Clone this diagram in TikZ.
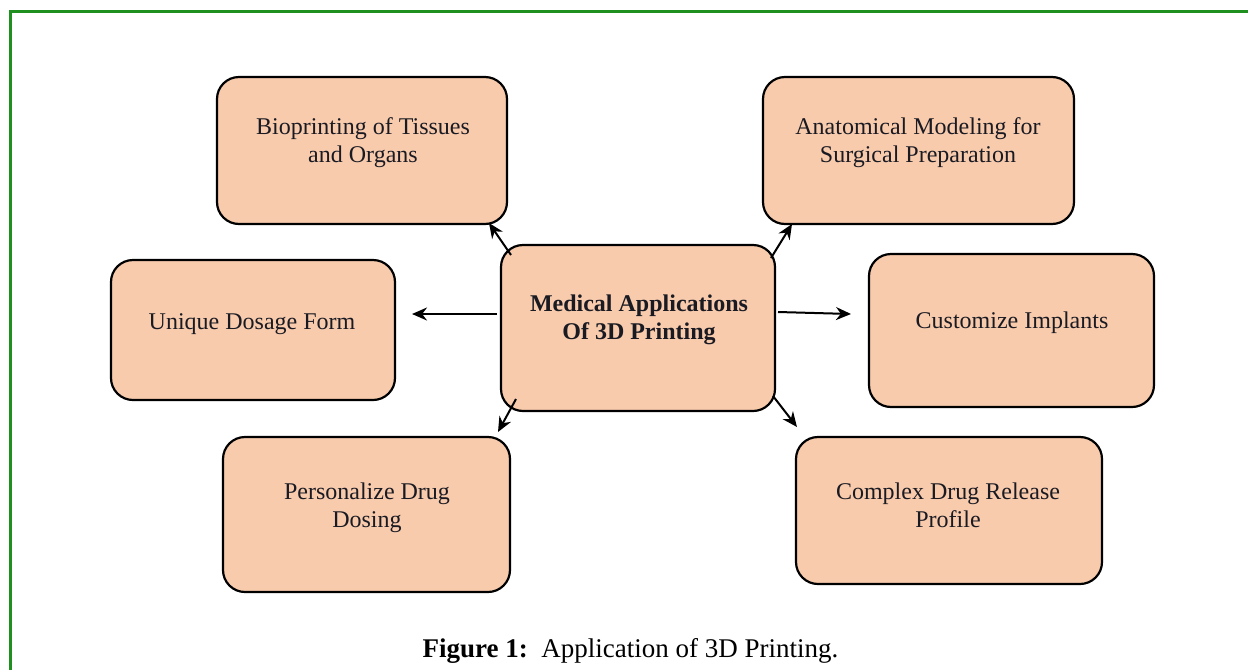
\documentclass[tikz,border=0pt]{standalone}
\usepackage{fontspec}
\setmainfont{Liberation Serif}
\usetikzlibrary{arrows.meta}
\definecolor{boxfill}{HTML}{F8CBAD}
\definecolor{framegreen}{HTML}{1F8F1F}
\definecolor{txt}{HTML}{1A1A22}
\begin{document}
\begin{tikzpicture}[x=1pt,y=-1pt,
  box/.style={draw=black, line width=2.2pt, fill=boxfill, rounded corners=22pt, inner sep=0pt},
  lbl/.style={align=center, font=\fontsize{24}{28}\selectfont, text=txt, inner sep=0pt},
  arr/.style={line width=2pt, -{Stealth[length=15pt,width=13pt]}}]
\useasboundingbox (0,0) rectangle (1248,670);
\draw[framegreen, line width=3pt] (10,670) -- (10,11.5) -- (1248,11.5);

% boxes
\node[box, minimum width=290pt, minimum height=147pt] (bio)  at (362,150.5) {};
\node[box, minimum width=311pt, minimum height=147pt] (anat) at (918.5,150.5) {};
\node[box, minimum width=284pt, minimum height=140pt] (uniq) at (253,330) {};
\node[box, minimum width=274pt, minimum height=166pt] (cent) at (638,328) {};
\node[box, minimum width=285pt, minimum height=153pt] (cust) at (1011.5,330.5) {};
\node[box, minimum width=287pt, minimum height=155pt] (pers) at (366.5,514.5) {};
\node[box, minimum width=306pt, minimum height=147pt] (comp) at (949,510.5) {};

% texts
\node[lbl] (bio-t)  at (363,143) {Bioprinting of Tissues\\and Organs};
\node[lbl] (anat-t) at (918,143) {Anatomical Modeling for\\Surgical Preparation};
\node[lbl] (uniq-t) at (252,324) {Unique Dosage Form};
\node[lbl] (cent-t) at (639,320) {\bfseries Medical Applications\\\bfseries Of 3D Printing};
\node[lbl] (cust-t) at (1012,323) {Customize Implants};
\node[lbl] (pers-t) at (367,508) {Personalize Drug\\Dosing};
\node[lbl] (comp-t) at (948,505) {Complex Drug Release\\Profile};

% arrow coordinates
\coordinate (s1) at (511,255); \coordinate (e1) at (489,223);
\coordinate (s2) at (771,258); \coordinate (e2) at (792,224);
\coordinate (s3) at (497,314); \coordinate (e3) at (412,314);
\coordinate (s4) at (778,312); \coordinate (e4) at (851,314);
\coordinate (s5) at (516,399); \coordinate (e5) at (498,432);
\coordinate (s6) at (773,396); \coordinate (e6) at (797,427);
\draw[arr] (s1) -- (e1);
\draw[arr] (s2) -- (e2);
\draw[arr] (s3) -- (e3);
\draw[arr] (s4) -- (e4);
\draw[arr] (s5) -- (e5);
\draw[arr] (s6) -- (e6);

% caption
\node[font=\fontsize{27}{32}\selectfont, inner sep=0pt] (cap) at (630.5,651) {\textbf{Figure 1:}\ \ Application of 3D Printing.};
\end{tikzpicture}
\end{document}
